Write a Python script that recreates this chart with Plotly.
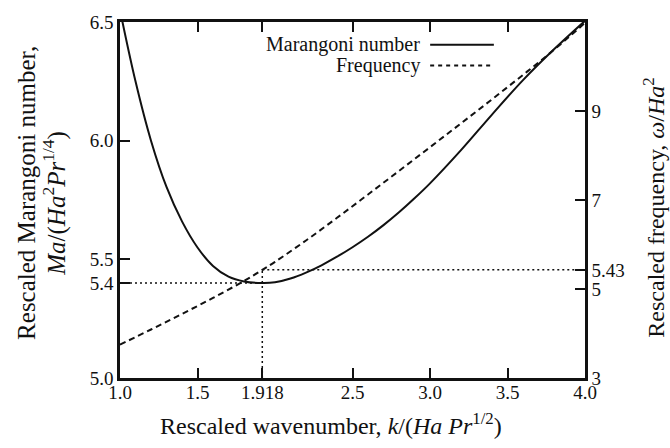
import plotly.graph_objects as go

# Rescaled wavenumber samples and the two curves
k_ma = [1.0, 1.1, 1.2, 1.3, 1.4, 1.5, 1.6, 1.7, 1.8, 1.918, 2.0, 2.1, 2.2, 2.3, 2.4,
        2.5, 2.6, 2.7, 2.8, 2.9, 3.0, 3.2, 3.4, 3.6, 3.8, 4.0]
marangoni = [6.55, 6.25, 6.0, 5.805, 5.66, 5.55, 5.472, 5.427, 5.407, 5.400, 5.403,
             5.419, 5.444, 5.475, 5.511, 5.551, 5.595, 5.644, 5.698, 5.757, 5.82,
             5.96, 6.11, 6.255, 6.385, 6.505]

k_freq = [1.0, 1.2, 1.4, 1.6, 1.8, 1.918, 2.0, 2.2, 2.4, 2.6, 2.8, 3.0, 3.2, 3.4,
          3.6, 3.8, 4.0]
frequency = [3.75, 4.09, 4.44, 4.80, 5.18, 5.43, 5.61, 6.09, 6.60, 7.124, 7.654,
             8.186, 8.722, 9.262, 9.812, 10.376, 10.98]

# Critical point
k_crit = 1.918
ma_crit = 5.4
freq_crit = 5.43

x_ticks = [1.0, 1.5, 1.918, 2.5, 3.0, 3.5, 4.0]
x_ticktext = ["1.0", "1.5", "1.918", "2.5", "3.0", "3.5", "4.0"]
y_ticks = [5.0, 5.4, 5.5, 6.0, 6.5]
y_ticktext = ["5.0", "5.4", "5.5", "6.0", "6.5"]
y2_ticks = [3, 5, 5.43, 7, 9]
y2_ticktext = ["3", "5", "5.43", "7", "9"]

FONT = "Liberation Serif, Times New Roman, serif"
INK = "#111111"

fig = go.Figure()

fig.add_trace(go.Scatter(x=k_ma, y=marangoni, mode="lines",
                         line=dict(color=INK, width=2, shape="spline", smoothing=1),
                         yaxis="y", showlegend=False))
fig.add_trace(go.Scatter(x=k_freq, y=frequency, mode="lines",
                         line=dict(color=INK, width=2, dash="6px,4px",
                                   shape="spline", smoothing=1),
                         yaxis="y2", showlegend=False))

# Dotted guides to the critical point
dot = dict(color=INK, width=1.5, dash="2px,3px")
fig.add_trace(go.Scatter(x=[x_ticks[0], k_crit], y=[ma_crit, ma_crit], mode="lines",
                         line=dot, yaxis="y", showlegend=False))
fig.add_trace(go.Scatter(x=[k_crit, k_crit], y=[y2_ticks[0], freq_crit], mode="lines",
                         line=dot, yaxis="y2", showlegend=False))
fig.add_trace(go.Scatter(x=[k_crit, x_ticks[-1]], y=[freq_crit, freq_crit], mode="lines",
                         line=dot, yaxis="y2", showlegend=False))

axis_common = dict(showline=True, linecolor=INK, linewidth=2.5, ticks="inside",
                   ticklen=10, tickwidth=2, tickcolor=INK, showgrid=False,
                   zeroline=False, tickfont=dict(family=FONT, size=19, color=INK))

fig.update_layout(
    width=670, height=448,
    margin=dict(l=120, r=85, t=16, b=70),
    paper_bgcolor="white", plot_bgcolor="white",
    font=dict(family=FONT, color=INK),
    xaxis=dict(range=[1.0, 4.0], tickvals=x_ticks, ticktext=x_ticktext,
               mirror="ticks", ticklabelstandoff=-5, **axis_common),
    yaxis=dict(range=[5.0, 6.5], tickvals=y_ticks, ticktext=y_ticktext,
               mirror=True, **axis_common),
    yaxis2=dict(range=[3, 11], tickvals=y2_ticks, ticktext=y2_ticktext,
                overlaying="y", side="right", **axis_common),
)

# Legend drawn as text with line samples to the right
legend_rows = [("Marangoni number", "solid", 0.936), ("Frequency", "4px,4px", 0.878)]
for label, dash, yy in legend_rows:
    fig.add_annotation(x=0.649, y=yy, xref="paper", yref="paper", text=label,
                       showarrow=False, xanchor="right", yanchor="middle",
                       font=dict(family=FONT, size=20, color=INK))
    fig.add_shape(type="line", xref="paper", yref="paper", x0=0.667, x1=0.804,
                  y0=yy, y1=yy, line=dict(color=INK, width=2, dash=dash))

# Axis titles
fig.add_annotation(x=0.454, y=-0.13, xref="paper", yref="paper",
                   text="Rescaled wavenumber, <i>k</i>/(<i>Ha Pr</i><sup>1/2</sup>)",
                   showarrow=False, xanchor="center", yanchor="middle",
                   font=dict(family=FONT, size=24, color=INK))
fig.add_annotation(x=-0.2, y=0.52, xref="paper", yref="paper",
                   text="Rescaled Marangoni number,", textangle=-90,
                   showarrow=False, xanchor="center", yanchor="middle",
                   font=dict(family=FONT, size=25, color=INK))
fig.add_annotation(x=-0.14, y=0.492, xref="paper", yref="paper",
                   text="<i>Ma</i>/(<i>Ha</i><sup>2</sup><i>Pr</i><sup>1/4</sup>)",
                   textangle=-90,
                   showarrow=False, xanchor="center", yanchor="middle",
                   font=dict(family=FONT, size=25, color=INK))
fig.add_annotation(x=1.148, y=0.478, xref="paper", yref="paper",
                   text="Rescaled frequency, <i>ω</i>/<i>Ha</i><sup>2</sup>",
                   textangle=-90,
                   showarrow=False, xanchor="center", yanchor="middle",
                   font=dict(family=FONT, size=24, color=INK))

fig.write_html("out.html")
